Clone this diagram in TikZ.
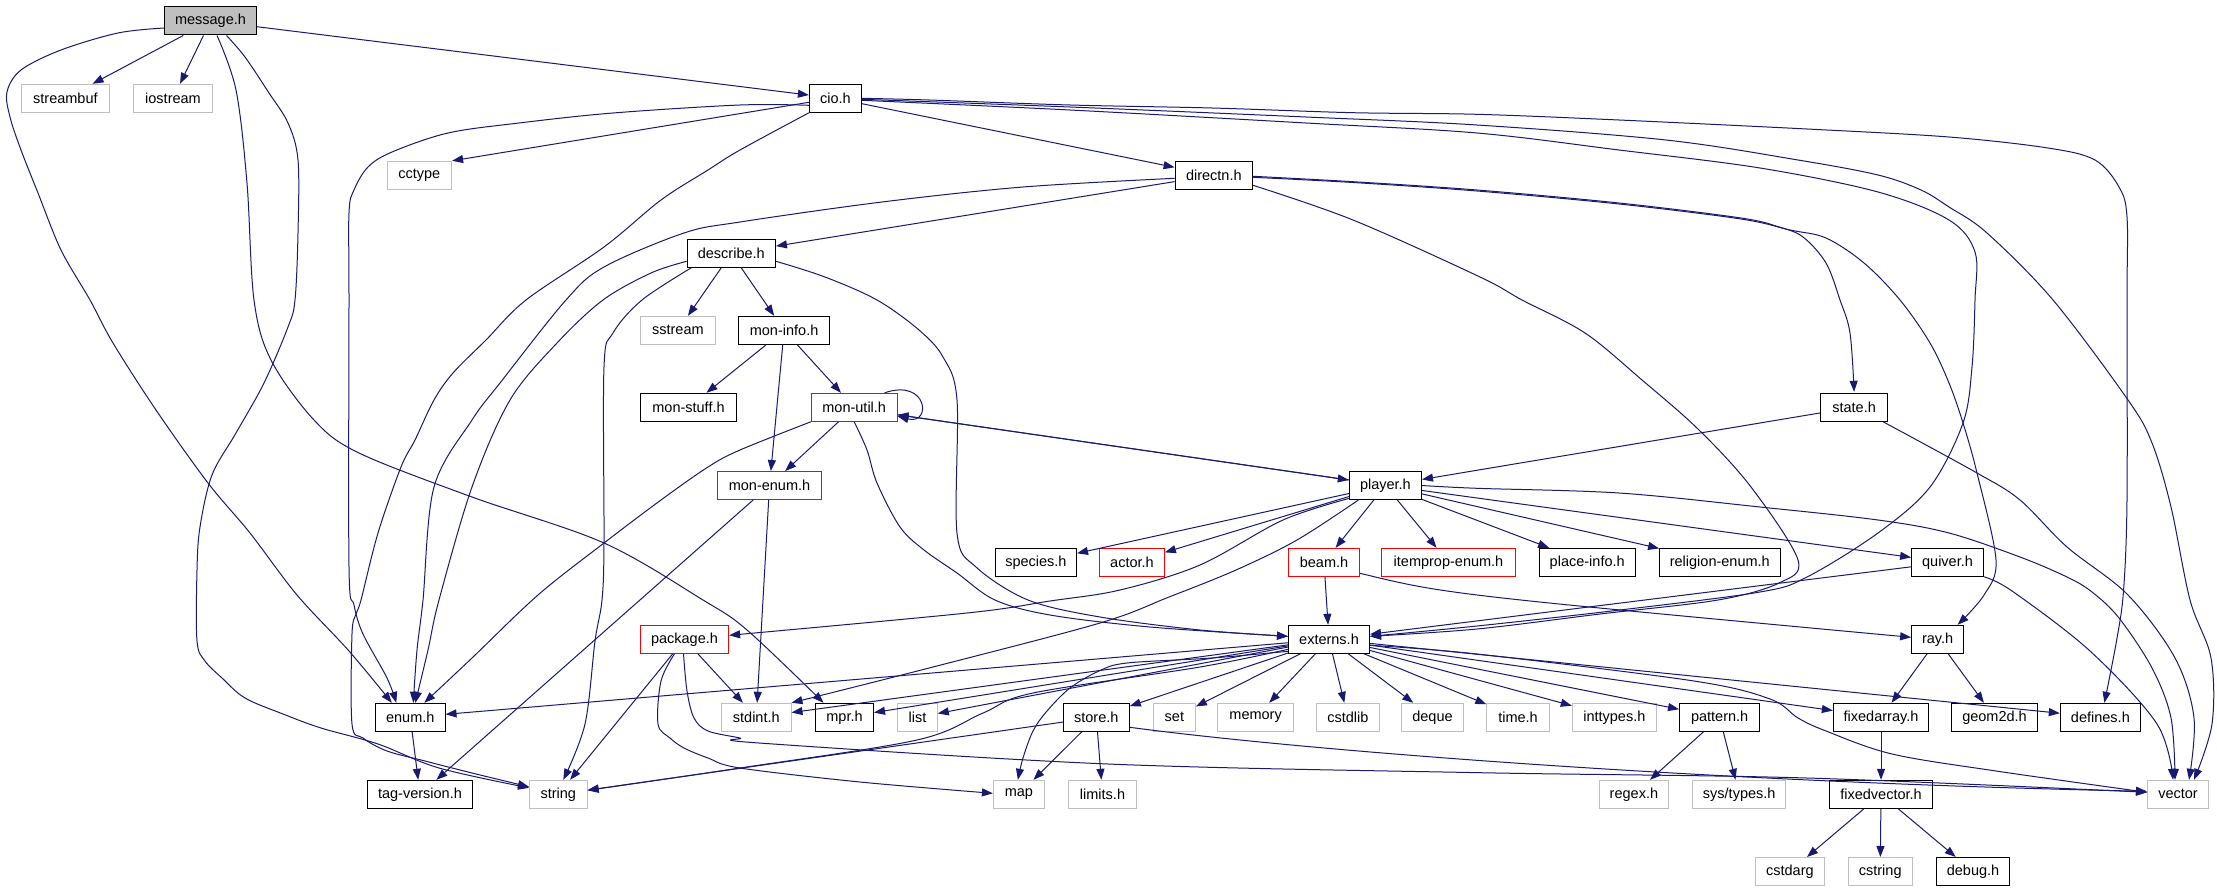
\documentclass[tikz,border=0pt]{standalone}
\usepackage{fontspec}
\setmainfont{Liberation Sans}
\usetikzlibrary{arrows.meta}
\definecolor{edgecol}{RGB}{25,25,112}
\definecolor{sysgray}{RGB}{191,191,191}
\definecolor{msgfill}{RGB}{191,191,191}
\tikzset{
  box/.style={draw=black, line width=1pt, minimum height=28pt, inner sep=0pt, text=black, font=\fontsize{14.5}{16}\selectfont, fill=white},
  sysbox/.style={box, draw=sysgray},
  redbox/.style={box, draw=red},
  edge/.style={draw=edgecol, line width=1pt, line join=round, -{Triangle[length=11pt,width=8pt]}},
  sm/.style={smooth, tension=0.55}
}
\begin{document}
\begin{tikzpicture}[x=1pt,y=-1pt]
\fill[white] (0,0) rectangle (2217,891);
\useasboundingbox (0,0) rectangle (2217,891);
% ---------- edges first (drawn below nodes) ----------
\begin{scope}[on background layer/.style={}]
\end{scope}
% nodes
\node[box, minimum width=91.6pt, fill=msgfill] (message) at (210.5,21) {message.h};
\node[sysbox, minimum width=88pt] (streambuf) at (65.4,98.3) {streambuf};
\node[sysbox, minimum width=79pt] (iostream) at (173,98.3) {iostream};
\node[box, minimum width=52pt] (cio) at (835.4,98.3) {cio.h};
\node[sysbox, minimum width=64.6pt] (cctype) at (419.3,175.3) {cctype};
\node[box, minimum width=77.4pt] (directn) at (1213.8,175.3) {directn.h};
\node[box, minimum width=88.3pt] (describe) at (731.3,253.3) {describe.h};
\node[sysbox, minimum width=75pt] (sstream) at (677.9,330.3) {sstream};
\node[box, minimum width=91.2pt] (moninfo) at (784.1,330.3) {mon-info.h};
\node[box, minimum width=96.3pt] (monstuff) at (688.5,407.3) {mon-stuff.h};
\node[redbox, minimum width=85.8pt] (monutil) at (854.2,407.3) {mon-util.h};
\node[box, minimum width=67pt] (state) at (1854.1,407.3) {state.h};
\node[redbox, minimum width=104.3pt] (monenum) at (769.5,485.5) {mon-enum.h};
\node[box, minimum width=72.2pt] (player) at (1385.4,485.5) {player.h};
\node[box, minimum width=81.2pt] (species) at (1035.9,562.3) {species.h};
\node[redbox, minimum width=64.7pt] (actor) at (1132,562.3) {actor.h};
\node[redbox, minimum width=71.2pt] (beam) at (1324,562.3) {beam.h};
\node[redbox, minimum width=134.4pt] (itemprop) at (1448.5,562.3) {itemprop-enum.h};
\node[box, minimum width=95.8pt] (placeinfo) at (1587.2,562.3) {place-info.h};
\node[box, minimum width=120.4pt] (religion) at (1719.8,562.3) {religion-enum.h};
\node[box, minimum width=71.8pt] (quiver) at (1947.5,562.3) {quiver.h};
\node[redbox, minimum width=88.2pt] (package) at (684.5,639.3) {package.h};
\node[box, minimum width=81.1pt] (externs) at (1329,639.3) {externs.h};
\node[box, minimum width=51.9pt] (ray) at (1937.6,639.3) {ray.h};
\node[box, minimum width=69.4pt] (enumh) at (410.3,717.3) {enum.h};
\node[sysbox, minimum width=69.4pt] (stdint) at (756.3,717.3) {stdint.h};
\node[box, minimum width=58pt] (mpr) at (844.5,717.3) {mpr.h};
\node[sysbox, minimum width=39.6pt] (list) at (917.5,717.3) {list};
\node[box, minimum width=66pt] (store) at (1096.3,717.3) {store.h};
\node[sysbox, minimum width=42pt] (set) at (1174.4,717.3) {set};
\node[sysbox, minimum width=76pt] (memory) at (1255.6,717.3) {memory};
\node[sysbox, minimum width=63.2pt] (cstdlib) at (1347.8,717.3) {cstdlib};
\node[sysbox, minimum width=61.8pt] (deque) at (1432.5,717.3) {deque};
\node[sysbox, minimum width=62.3pt] (timeh) at (1518,717.3) {time.h};
\node[sysbox, minimum width=84pt] (inttypes) at (1614.3,717.3) {inttypes.h};
\node[box, minimum width=80.2pt] (pattern) at (1719.6,717.3) {pattern.h};
\node[box, minimum width=95.3pt] (fixedarray) at (1881,717.3) {fixedarray.h};
\node[box, minimum width=86.3pt] (geom) at (1994.5,717.3) {geom2d.h};
\node[box, minimum width=80.2pt] (defines) at (2100.4,717.3) {defines.h};
\node[box, minimum width=104.8pt] (tagv) at (420,794.3) {tag-version.h};
\node[sysbox, minimum width=57.6pt] (string) at (558.3,794.3) {string};
\node[sysbox, minimum width=51pt] (map) at (1018.9,794.3) {map};
\node[sysbox, minimum width=68pt] (limits) at (1102.5,794.3) {limits.h};
\node[sysbox, minimum width=68.4pt] (regex) at (1633.9,794.3) {regex.h};
\node[sysbox, minimum width=93pt] (systypes) at (1739.2,794.3) {sys/types.h};
\node[box, minimum width=102.9pt] (fixedvector) at (1881,794.3) {fixedvector.h};
\node[sysbox, minimum width=60.9pt] (vector) at (2178,794.3) {vector};
\node[sysbox, minimum width=68.9pt] (cstdarg) at (1789.9,871.5) {cstdarg};
\node[sysbox, minimum width=63.7pt] (cstring) at (1880.2,871.5) {cstring};
\node[box, minimum width=72.7pt] (debug) at (1973,871.5) {debug.h};

% ---------- message.h ----------
\draw[edge] (message) -- (streambuf);
\draw[edge] (message) -- (iostream);
\draw[edge] (message) -- (cio);
\draw[edge] plot[sm] coordinates {([yshift=-7pt]message.west) (118,33) (61,50) (21,70) (7,92) (10,117) (21,150) (38,193) (61,250) (90,300) (113,343) (156,410) (208,483) (250,533) (297,595) (349,651) ([xshift=-18.5pt]enumh.north)};
\draw[edge] plot[sm] coordinates {([xshift=6.5pt]message.south) (236,90) (247,183) (254,300) (271,360) (314,420) (359,453) (472,497) (604,543) (703,600) (747,630) ([xshift=-21pt]mpr.north)};
\draw[edge] plot[sm] coordinates {([xshift=16pt]message.south) (245,57) (269,93) (288,123) (298,160) (298,233) (295,300) (288,327) (264,383) (236,433) (212,475) (200,527) (197,570) (197,641) (205,661) (222,678) (245,698) (283,714) (321,728) (378,744) (439,768) ([yshift=6.5pt]string.west)};

% ---------- cio.h ----------
\draw[edge] ([yshift=-4pt]cio.west) -- (cctype.north east);
\draw[edge] (cio) -- (directn);
\draw[edge] plot[sm] coordinates {([yshift=-7pt]cio.west) (740,105) (613,113) (519,123) (448,133) (392,152) (368,167) (354,190) (349,213) (349,300) (349,567) (354,605) (363,634) (387,678) ([xshift=-14pt]enumh.north)};
\draw[edge] plot[sm] coordinates {(cio.south west) (740,150) (708,170) (661,200) (604,247) (526,300) (486,340) (453,373) (434,400) (415,440) (401,467) (378,533) (361,600) (356,614) (352,634) (352,724) (363,738) (387,751) (425,761) (472,773) ([yshift=7.5pt]string.west)};
\draw[edge] plot[sm] coordinates {(cio.east) (929,100) (1070,105) (1212,108) (1353,112.7) (1477,114.3) (1619,120) (1807,129) (1949,137) (2048,148) (2095,160) (2119,187) (2127,217) (2127,300) (2127,500) (2123.5,591) (2116.5,641) ([xshift=4pt]defines.north)};
\draw[edge] plot[sm] coordinates {([yshift=-1pt]cio.east) (1070,107) (1306,117) (1477,125) (1666,140) (1798,160) (1878,175) (1921,190) (1949,207) (1987,233) (2053,300) (2128,400) (2152,443) (2171,507) (2190,600) (2211,658) (2212,724) ([xshift=16pt]vector.north)};
\draw[edge] plot[sm] coordinates {([yshift=-2pt]cio.east) (1070,110) (1306,123) (1477,133) (1619,150) (1760,168) (1878,192) (1949,220) (1975,252) (1975,300) (1972,367) (1963,423) (1930,487) (1878,533) (1807,577) (1760,592) (1620,610) (1477,626) ([yshift=3pt]externs.east)};

% ---------- directn.h ----------
\draw[edge] (directn) -- (describe);
\draw[edge] plot[sm] coordinates {([yshift=-3pt]directn.west) (1023,187) (882,202) (740,222) (684,233) (604,267) (566,300) (500,383) (472,420) (434,487) (423,600) (417,650) ([xshift=3pt]enumh.north)};
\draw[edge] plot[sm] coordinates {([yshift=-1pt]directn.east) (1353,181.7) (1477,190) (1619,203) (1741,218) (1779,227) (1803,237) (1826,263) (1840,300) (1850,333) ([yshift=1pt]state.north)};
\draw[edge] plot[sm] coordinates {([yshift=-2pt]directn.east) (1353,182.5) (1477,191) (1619,204) (1741,219) (1790,230) (1826,238) (1864,263) (1900,300) (1930,343) (1949,383) (1963,423) (1977,473) (1996,560) (1984,595) ([xshift=20pt]ray.north)};
\draw[edge] plot[sm] coordinates {([yshift=-10pt]directn.east) (1353,220) (1480,277) (1522,300) (1585,333) (1642,380) (1699,430) (1751,487) (1798,560) (1779,583) (1718,600) (1600,614) (1477,629) ([yshift=3pt]externs.east)};

% ---------- describe.h ----------
\draw[edge] (describe) -- (sstream);
\draw[edge] (describe) -- (moninfo);
\draw[edge] plot[sm] coordinates {([yshift=-8pt]describe.west) (651,273) (603,300) (557,343) (510,400) (472,487) (439,600) (428,650) ([xshift=5pt]enumh.north)};
\draw[edge] plot[sm] coordinates {([xshift=-40pt]describe.south) (642,300) (613,333) (604,367) (604,543) (602,600) (595,641) (585,724) ([xshift=5pt]string.north)};
\draw[edge] plot[sm] coordinates {([yshift=-8pt]describe.east) (825,277) (877,300) (919,330) (943,357) (957,400) (957,533) (976,567) (1028,600) (1100,617) (1200,630) ([yshift=3pt]externs.west)};

% ---------- mon-* ----------
\draw[edge] (moninfo) -- (monstuff);
\draw[edge] (moninfo) -- (monutil);
\draw[edge] (moninfo) -- (monenum);
\draw[edge] (monutil) -- (monenum);
\draw[edge] ([xshift=-13pt]monutil.north east) .. controls (928,378) and (932,425) .. ([yshift=-9pt]monutil.east);
\draw[edge] ([yshift=-7.5pt]monutil.east) -- ([yshift=5.5pt]player.west);
\draw[edge] ([yshift=5.5pt]player.west) -- ([yshift=-7.5pt]monutil.east);
\draw[edge] plot[sm] coordinates {(monutil.south west) (740,450) (708,467) (661,500) (604,543) (538,595) (472,658) ([xshift=14pt]enumh.north)};
\draw[edge] plot[sm] coordinates {(monutil.south) (867,450) (877,483) (900,527) (924,550) (957,573) (995,600) (1050,615) (1150,627) ([yshift=3pt]externs.west)};
\draw[edge] (monenum) -- (tagv);
\draw[edge] (monenum) -- (stdint);

% ---------- player.h ----------
\draw[edge] (player) -- (species);
\draw[edge] (player) -- (actor);
\draw[edge] (player) -- (beam);
\draw[edge] (player) -- (itemprop);
\draw[edge] (player) -- (placeinfo);
\draw[edge] (player) -- (religion);
\draw[edge] (player) -- (quiver);
\draw[edge] plot[sm] coordinates {([yshift=-13pt]player.west) (1283,520) (1200,565) (1120,590) (1050,601) (967,613) ([yshift=4pt]package.east)};
\draw[edge] plot[sm] coordinates {([xshift=-27pt]player.south) (1297,540) (1236,570) (1169,597) (1100,623) (933,667) (stdint.north east)};
\draw[edge] plot[sm] coordinates {(player.east) (1477,488.3) (1619,493) (1760,507) (1878,520) (1949,533) (2020,557) (2067,577) (2092,592) (2119,618) (2152,668) (2171,718) ([xshift=-3pt]vector.north)};

% ---------- state.h ----------
\draw[edge] (state) -- (player);
\draw[edge] plot[sm] coordinates {([xshift=-5pt]state.south east) (1977,473) (2020,500) (2067,547) (2128,595) (2175,658) (2194,718) ([xshift=11pt]vector.north)};

% ---------- beam.h, quiver.h ----------
\draw[edge] (beam) -- (externs);
\draw[edge] ([yshift=-11pt]beam.east) .. controls (1445,594) .. ([yshift=2pt]ray.west);
\draw[edge] (quiver) -- (externs);
\draw[edge] plot[sm] coordinates {(quiver.south east) (2012,591) (2090,651) (2157,724) ([xshift=-5pt]vector.north)};

% ---------- ray.h etc ----------
\draw[edge] (ray) -- (fixedarray);
\draw[edge] (ray) -- (geom);
\draw[edge] (fixedarray) -- (fixedvector);
\draw[edge] (fixedvector) -- (cstdarg);
\draw[edge] (fixedvector) -- (cstring);
\draw[edge] (fixedvector) -- (debug);
\draw[edge] (pattern) -- (regex);
\draw[edge] (pattern) -- (systypes);
\draw[edge] (enumh) -- (tagv);

% ---------- store.h ----------
\draw[edge] (store) -- (string);
\draw[edge] (store) -- (map);
\draw[edge] (store) -- (limits);
\draw[edge] ([yshift=-10pt]store.east) .. controls (1300,750) and (1700,782) .. ([yshift=3pt]vector.west);

% ---------- package.h ----------
\draw[edge] (package) -- (string);
\draw[edge] (package) -- (stdint);
\draw[edge] plot[sm] coordinates {([xshift=-10pt]package.south) (661,681) (658,724) (670,738) (684,748) (708,758) (740,768) (860,782) ([yshift=1pt]map.west)};
\draw[edge] plot[sm] coordinates {([xshift=-1pt]package.south) (687,691) (694,718) (708,731) (740,738) (759,743) (1108,764) (1480,772.7) (1807,778) ([yshift=2pt]vector.west)};

% ---------- externs.h ----------
\draw[edge] (externs) -- (enumh);
\draw[edge] (externs) -- (stdint);
\draw[edge] (externs) -- (mpr);
\draw[edge] (externs) -- (list);
\draw[edge] (externs) -- (store);
\draw[edge] (externs) -- (set);
\draw[edge] (externs) -- (memory);
\draw[edge] (externs) -- (cstdlib);
\draw[edge] (externs) -- (deque);
\draw[edge] (externs) -- (timeh);
\draw[edge] (externs) -- (inttypes);
\draw[edge] (externs) -- (pattern);
\draw[edge] (externs) -- (fixedarray);
\draw[edge] (externs) -- (defines);
\draw[edge] plot[sm] coordinates {([yshift=-10pt]externs.west) (1200,667) (1033,693) (983,713) (917,740) (740,768) ([yshift=4pt]string.east)};
\draw[edge] plot[sm] coordinates {([yshift=-12pt]externs.west) (1212,658) (1127,663) (1099,671) (1070,688) (1047,711) (1033,731) (1023,758) ([xshift=-1pt]map.north)};
\draw[edge] plot[sm] coordinates {([yshift=-6pt]externs.east) (1477,654) (1694,681) (1770,699) (1798,718) (1826,731) (1892,754) (1996,771) ([yshift=2pt]vector.west)};
\end{tikzpicture}
\end{document}
